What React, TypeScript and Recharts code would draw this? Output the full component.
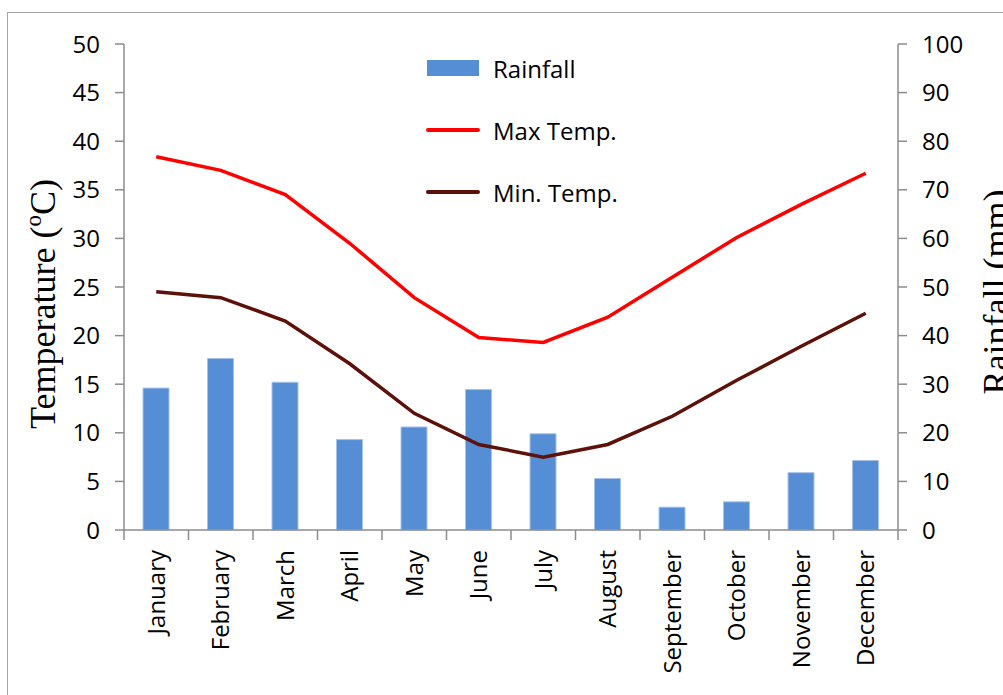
import React from "react";
import {
  ComposedChart,
  Bar,
  Line,
  XAxis,
  YAxis,
  Legend,
} from "recharts";

const months = [
  "January",
  "February",
  "March",
  "April",
  "May",
  "June",
  "July",
  "August",
  "September",
  "October",
  "November",
  "December",
];
const rainfall = [29.2, 35.3, 30.4, 18.6, 21.2, 28.9, 19.8, 10.6, 4.7, 5.8, 11.8, 14.3];
const maxTemp = [38.4, 37.0, 34.5, 29.5, 23.9, 19.8, 19.3, 21.9, 26.0, 30.1, 33.5, 36.7];
const minTemp = [24.5, 23.9, 21.5, 17.1, 12.0, 8.8, 7.5, 8.8, 11.7, 15.4, 18.9, 22.3];
const tempTicks = [0, 5, 10, 15, 20, 25, 30, 35, 40, 45, 50];
const rainTicks = [0, 10, 20, 30, 40, 50, 60, 70, 80, 90, 100];

const data = months.map((m, i) => ({
  month: m,
  rainfall: rainfall[i],
  maxTemp: maxTemp[i],
  minTemp: minTemp[i],
}));

const FONT = "'Open Sans', 'Noto Sans', sans-serif";
const SERIF = "'Liberation Serif', 'Times New Roman', serif";
const GREY = "#8c8c8c";
const HALF_BAND = (898 - 124) / 24;

const legendItems = [
  { name: "Rainfall", color: "#558ed5", kind: "bar" },
  { name: "Max Temp.", color: "#ff0000", kind: "line" },
  { name: "Min. Temp.", color: "#5e1108", kind: "line" },
];

const renderLegend = () => (
  <div style={{ fontFamily: FONT, fontSize: 24, color: "#000" }}>
    {legendItems.map((it) => (
      <div
        key={it.name}
        style={{ display: "flex", alignItems: "center", height: 62 }}
      >
        {it.kind === "bar" ? (
          <div style={{ width: 52, height: 16, background: it.color }} />
        ) : (
          <div
            style={{
              width: 54,
              height: 4,
              background: it.color,
              borderRadius: 2,
              marginLeft: -1,
              marginRight: -1,
            }}
          />
        )}
        <span style={{ marginLeft: 14 }}>{it.name}</span>
      </div>
    ))}
  </div>
);

const MonthTick = (props: any) => {
  const { x, y, payload, index } = props;
  const last = index === months.length - 1;
  return (
    <g>
      <line x1={x - HALF_BAND} y1={y} x2={x - HALF_BAND} y2={y + 10} stroke={GREY} strokeWidth={1.5} />
      {last && (
        <line x1={x + HALF_BAND} y1={y} x2={x + HALF_BAND} y2={y + 10} stroke={GREY} strokeWidth={1.5} />
      )}
      <g transform={`translate(${x},${y}) rotate(-90)`}>
        <text
          x={-20}
          y={0}
          dy="0.36em"
          textAnchor="end"
          fontFamily={FONT}
          fontSize={24}
          fill="#000"
        >
          {payload.value}
        </text>
      </g>
    </g>
  );
};

const LeftTitle = () => (
  <text
    transform="translate(42,304) rotate(-90)"
    textAnchor="middle"
    dy="0.35em"
    fontFamily={SERIF}
    fontSize={36}
    fill="#000"
  >
    Temperature (
    <tspan dy={-14} fontSize={23}>o</tspan>
    <tspan dy={14}>C)</tspan>
  </text>
);

const RightTitle = () => (
  <text
    transform="translate(995,292) rotate(-90)"
    textAnchor="middle"
    dy="0.35em"
    fontFamily={SERIF}
    fontSize={36}
    fill="#000"
  >
    Rainfall (mm)
  </text>
);

export default function App() {
  return (
    <div
      style={{
        position: "absolute",
        left: 0,
        top: 0,
        width: 1003,
        height: 695,
        overflow: "hidden",
        background: "#fff",
      }}
    >
      <div
        style={{
          position: "absolute",
          left: 7,
          top: 12,
          width: 1200,
          height: 900,
          border: "1.5px solid #a6a6a6",
        }}
      />
      <ComposedChart
        width={1003}
        height={695}
        data={data}
        margin={{ top: 44, right: 0, left: 0, bottom: 0 }}
        style={{ position: "absolute", left: 0, top: 0 }}
      >
        <XAxis
          dataKey="month"
          interval={0}
          height={165}
          tickSize={0}
          tickMargin={0}
          tickLine={false}
          axisLine={{ stroke: GREY, strokeWidth: 1.5 }}
          tick={<MonthTick />}
        />
        <YAxis
          yAxisId="left"
          orientation="left"
          width={124}
          domain={[0, 50]}
          ticks={tempTicks}
          interval={0}
          tickSize={9}
          tickMargin={15}
          axisLine={{ stroke: GREY, strokeWidth: 1.5 }}
          tickLine={{ stroke: GREY, strokeWidth: 1.5 }}
          tick={{ fontFamily: FONT, fontSize: 24, fill: "#000" }}
          label={{ content: () => <LeftTitle /> }}
        />
        <YAxis
          yAxisId="right"
          orientation="right"
          width={105}
          domain={[0, 100]}
          ticks={rainTicks}
          interval={0}
          tickSize={9}
          tickMargin={15}
          axisLine={{ stroke: GREY, strokeWidth: 1.5 }}
          tickLine={{ stroke: GREY, strokeWidth: 1.5 }}
          tick={{ fontFamily: FONT, fontSize: 24, fill: "#000" }}
          label={{ content: () => <RightTitle /> }}
        />
        <Legend
          layout="vertical"
          align="center"
          verticalAlign="middle"
          content={renderLegend}
          wrapperStyle={{ left: 427, top: 37, width: "auto" }}
        />
        <Bar
          yAxisId="right"
          dataKey="rainfall"
          name="Rainfall"
          barSize={26}
          fill="#558ed5"
          stroke="#a7c2e8"
          strokeWidth={1}
          isAnimationActive={false}
        />
        <Line
          yAxisId="left"
          type="linear"
          dataKey="maxTemp"
          name="Max Temp."
          stroke="#ff0000"
          strokeWidth={3.5}
          dot={false}
          isAnimationActive={false}
        />
        <Line
          yAxisId="left"
          type="linear"
          dataKey="minTemp"
          name="Min. Temp."
          stroke="#5e1108"
          strokeWidth={3.5}
          dot={false}
          isAnimationActive={false}
        />
      </ComposedChart>
    </div>
  );
}
